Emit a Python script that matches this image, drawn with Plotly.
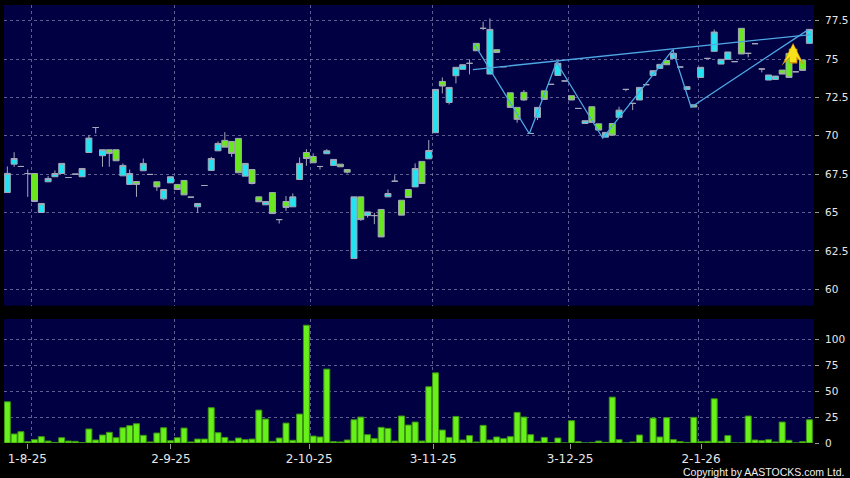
import plotly.graph_objects as go

# daily bars, one per trading session (x = session number)
opens = [66.3, 68.15, 68.0, 67.54, 67.54, 65.0, 67.0, 67.33, 67.54, 67.28,
         67.5, 67.33, 68.91, 70.54, 68.7, 69.09, 69.09, 67.39, 66.83, 67.02,
         67.72, 67.48, 67.0, 65.89, 66.93, 66.83, 67.09, 66.0, 65.37, 66.76,
         67.74, 69.02, 69.7, 69.63, 69.83, 67.37, 67.8, 66.02, 65.5, 66.3,
         64.54, 65.72, 65.37, 67.15, 68.91, 68.65, 68.0, 68.83, 68.07, 68.15,
         67.8, 62.0, 66.02, 64.8, 64.8, 65.2, 66.02, 67.04, 65.8, 66.5,
         66.67, 68.33, 68.5, 70.2, 73.54, 72.17, 73.91, 74.33, 74.72, 76.02,
         77.0, 74.02, 75.61, 74.5, 72.8, 71.85, 72.83, 70.15, 71.2, 72.93,
         73.35, 73.93, 73.57, 72.61, 71.78, 70.8, 71.89, 70.78, 69.91, 70.8,
         71.2, 73.02, 72.11, 72.33, 73.33, 73.93, 74.39, 74.91, 75.04, 74.48,
         73.02, 72.02, 73.8, 75.04, 75.5, 74.67, 74.98, 74.83, 77.0, 75.37,
         76.0, 74.35, 73.63, 73.67, 74.28, 75.37, 74.17, 74.93, 76.02]
highs = [68.0, 68.93, 68.0, 67.8, 67.54, 65.59, 67.37, 67.74, 68.2, 67.28,
         67.5, 67.87, 70.04, 70.54, 69.09, 69.09, 69.09, 68.2, 67.8, 67.02,
         68.52, 67.48, 67.0, 66.5, 67.33, 66.83, 67.09, 66.0, 65.59, 66.76,
         68.63, 69.63, 70.24, 69.63, 69.83, 68.2, 67.8, 66.02, 65.72, 66.3,
         64.54, 66.07, 66.24, 68.59, 69.13, 68.85, 68.0, 69.13, 68.46, 68.15,
         67.8, 66.02, 66.02, 65.04, 64.98, 65.2, 66.5, 67.43, 65.8, 66.5,
         68.2, 68.33, 69.72, 73.02, 73.8, 73.15, 74.46, 74.63, 74.98, 76.02,
         77.43, 77.65, 75.61, 74.5, 72.8, 71.85, 72.98, 70.15, 71.85, 72.93,
         73.35, 74.87, 73.57, 72.61, 71.78, 70.98, 71.89, 70.78, 70.22, 70.8,
         71.89, 73.02, 72.11, 73.15, 73.33, 74.24, 74.65, 74.91, 75.63, 74.48,
         73.2, 72.02, 74.46, 75.04, 76.93, 74.98, 75.46, 74.83, 77.0, 75.37,
         76.0, 74.35, 73.96, 73.89, 74.28, 75.37, 74.17, 74.93, 76.93]
lows = [66.3, 67.98, 68.0, 66.02, 65.72, 65.0, 67.0, 67.33, 67.54, 67.28,
        67.5, 67.33, 68.91, 70.15, 67.98, 67.98, 68.37, 67.39, 66.83, 66.02,
        67.72, 67.48, 66.41, 65.8, 66.93, 66.5, 66.15, 66.0, 64.98, 66.76,
        67.74, 69.02, 69.26, 68.63, 67.59, 67.37, 66.83, 65.7, 65.5, 64.93,
        64.28, 65.11, 65.37, 67.15, 68.04, 68.24, 67.8, 68.83, 68.07, 67.98,
        67.54, 62.0, 64.46, 64.67, 64.24, 63.41, 66.02, 67.04, 64.83, 65.98,
        66.67, 66.89, 68.5, 70.2, 72.76, 72.04, 73.41, 74.33, 74.0, 75.54,
        76.9, 74.02, 75.43, 74.5, 71.85, 70.85, 72.28, 70.15, 71.02, 72.37,
        73.35, 73.93, 73.57, 72.33, 71.78, 70.8, 70.87, 70.37, 69.91, 70.04,
        71.2, 72.9, 71.67, 72.33, 73.33, 73.93, 74.39, 74.63, 75.04, 74.48,
        73.02, 71.87, 73.8, 75.04, 75.5, 74.67, 74.98, 74.83, 75.33, 75.11,
        76.0, 74.13, 73.63, 73.67, 74.02, 73.8, 74.17, 74.26, 76.02]
closes = [67.55, 68.52, 68.0, 67.54, 65.72, 65.59, 67.22, 67.54, 68.2, 67.28,
          67.5, 67.87, 69.85, 70.54, 69.09, 68.85, 68.37, 68.07, 67.54, 66.83,
          68.2, 67.48, 66.67, 66.5, 67.33, 66.5, 66.15, 66.0, 65.59, 66.76,
          68.52, 69.5, 69.26, 68.85, 67.59, 68.2, 66.89, 65.7, 65.72, 64.93,
          64.54, 65.33, 66.02, 68.2, 68.52, 68.24, 68.0, 69.02, 68.46, 67.98,
          67.63, 66.02, 64.54, 65.04, 64.8, 63.41, 66.24, 67.04, 64.83, 65.98,
          67.87, 66.89, 69.04, 73.02, 73.24, 73.15, 74.46, 74.63, 74.72, 75.54,
          77.0, 76.93, 75.43, 74.5, 71.85, 71.07, 72.33, 70.15, 71.85, 72.37,
          73.35, 74.72, 73.57, 72.33, 71.78, 70.98, 70.87, 70.37, 70.22, 70.04,
          71.67, 73.02, 72.11, 73.15, 73.33, 74.24, 74.65, 74.63, 75.37, 74.48,
          73.2, 71.87, 74.46, 75.04, 76.76, 74.98, 75.46, 74.83, 75.33, 75.37,
          76.0, 74.35, 73.96, 73.89, 74.02, 73.8, 74.17, 74.26, 76.93]
volumes = [39.7, 8.7, 10.9, 1.3, 3.2, 6.1, 1.9, 0.6, 5.1, 1.9,
           1.6, 0.3, 13.5, 2.9, 7.7, 10.3, 5.1, 14.7, 16.7, 18.6,
           7.4, 1.0, 9.6, 14.7, 2.2, 5.1, 14.4, 1.0, 3.8, 3.8,
           34.0, 9.9, 5.4, 1.9, 4.8, 3.2, 3.8, 31.7, 23.1, 1.6,
           4.8, 19.2, 2.6, 27.9, 113.5, 6.7, 5.8, 71.2, 1.3, 1.0,
           2.9, 22.4, 25.0, 8.0, 4.2, 15.1, 14.1, 1.9, 26.0, 17.3,
           20.2, 1.9, 54.2, 67.6, 12.5, 5.4, 25.6, 2.9, 7.1, 1.0,
           17.0, 2.9, 5.8, 4.2, 6.1, 29.5, 25.0, 8.0, 1.6, 5.4,
           0.3, 4.8, 0.0, 21.5, 1.3, 0.0, 0.6, 1.9, 0.6, 44.2,
           3.2, 0.0, 1.0, 7.7, 0.0, 24.0, 5.8, 24.4, 3.2, 1.3,
           0.6, 24.7, 1.3, 1.6, 42.6, 1.6, 7.1, 0.0, 0.0, 26.0,
           2.9, 2.2, 3.2, 1.0, 20.2, 2.6, 0.0, 1.3, 22.4]
sessions = list(range(len(closes)))

# chart pattern drawn over the candles
pattern_x = [68.7, 76.8, 80.8, 87.6, 97.9, 100.6, 117.8]
pattern_y = [75.98, 70.13, 74.79, 69.84, 75.59, 71.86, 76.9]
neckline_x = [68.5, 118.2]
neckline_y = [74.31, 76.59]

month_labels = ["1-8-25", "2-9-25", "2-10-25", "3-11-25", "3-12-25", "2-1-26"]
month_label_pos = [2.94, 24.07, 44.41, 62.65, 82.79, 102.06]
month_grid_pos = [3.59, 24.56, 44.56, 62.53, 82.53, 101.62]

price_ticks = [60, 62.5, 65, 67.5, 70, 72.5, 75, 77.5]
volume_ticks = [0, 25, 50, 75, 100]

NAVY = "#000042"
GRID = "rgba(125,125,175,0.75)"
CYAN = "#20e4f2"
LIME = "#6ae81e"
TXT = "#e6e6e6"
FONT = "DejaVu Sans"
x_range = [-0.49, 118.68]

fig = go.Figure()

fig.add_trace(go.Candlestick(
    x=sessions, open=opens, high=highs, low=lows, close=closes,
    increasing=dict(fillcolor=CYAN, line=dict(color="#a4a8b8", width=1)),
    decreasing=dict(fillcolor=LIME, line=dict(color="#a4a8b8", width=1)),
    whiskerwidth=0, xaxis="x", yaxis="y", hoverinfo="skip",
))

fig.add_trace(go.Scatter(
    x=pattern_x, y=pattern_y, mode="lines",
    line=dict(color="#4ea8e4", width=1.3), xaxis="x", yaxis="y", hoverinfo="skip",
))
fig.add_trace(go.Scatter(
    x=neckline_x, y=neckline_y, mode="lines",
    line=dict(color="#4ea8e4", width=1.3), xaxis="x", yaxis="y", hoverinfo="skip",
))

fig.add_trace(go.Bar(
    x=sessions, y=volumes, xaxis="x2", yaxis="y2",
    marker=dict(color="#68f01a", line=dict(color="#3d9412", width=1)),
    hoverinfo="skip",
))

# yellow up arrow near the breakout (orange rim under a yellow one)
fig.add_annotation(
    x=115.6, y=76.05, xref="x", yref="y", ax=0, ay=22, text="",
    showarrow=True, arrowhead=3, arrowsize=0.45, arrowwidth=8.5, arrowcolor="#d89a08",
)
fig.add_annotation(
    x=115.6, y=75.95, xref="x", yref="y", ax=0, ay=19, text="",
    showarrow=True, arrowhead=3, arrowsize=0.45, arrowwidth=6.5, arrowcolor="#f8e21a",
)

fig.add_annotation(
    text="Copyright by AASTOCKS.com Ltd.", xref="paper", yref="paper",
    x=1.0395, y=-0.066, xanchor="right", yanchor="middle", showarrow=False,
    font=dict(family="Liberation Sans", size=10.5, color="#f0f0f0"),
)

minor_grid = dict(tickmode="array", tickvals=month_grid_pos, showgrid=True,
                  gridcolor=GRID, griddash="3px,3px", gridwidth=1, ticks="")

fig.update_layout(
    width=850, height=478,
    margin=dict(l=4, r=36, t=5, b=35, autoexpand=False),
    paper_bgcolor="#000000",
    plot_bgcolor=NAVY,
    showlegend=False,
    boxgap=0.12, boxgroupgap=0,
    bargap=0.12,
    font=dict(family=FONT, size=12, color=TXT),
    xaxis=dict(domain=[0, 1], anchor="y", range=x_range, showgrid=False,
               showticklabels=False, ticks="", zeroline=False,
               rangeslider=dict(visible=False), minor=minor_grid),
    yaxis=dict(domain=[0.3135, 1], anchor="x", side="right", range=[58.93, 78.52],
               tickmode="array", tickvals=price_ticks,
               ticktext=[f"{v:g}" for v in price_ticks],
               showgrid=True, gridcolor=GRID, griddash="3px,3px", zeroline=False,
               ticks="outside", ticklen=4, tickcolor="#9a9a9a", ticklabelstandoff=4,
               tickfont=dict(family=FONT, size=10.5, color=TXT)),
    xaxis2=dict(domain=[0, 1], anchor="y2", range=x_range, showgrid=False,
                tickmode="array", tickvals=month_label_pos, ticktext=month_labels,
                ticks="outside", ticklen=5, tickcolor="#9a9a9a", zeroline=False,
                tickfont=dict(family=FONT, size=12, color=TXT), minor=minor_grid),
    yaxis2=dict(domain=[0, 0.2831], anchor="x2", side="right", range=[0, 119.5],
                tickmode="array", tickvals=volume_ticks,
                showgrid=True, gridcolor=GRID, griddash="3px,3px", zeroline=False,
                ticks="outside", ticklen=4, tickcolor="#9a9a9a", ticklabelstandoff=4,
                tickfont=dict(family=FONT, size=10.5, color=TXT)),
)

# the page's default body margin would push the chart 8px off the window
fig.write_html("out.html", config={"displayModeBar": False},
               post_script="document.body.style.margin='0';")
